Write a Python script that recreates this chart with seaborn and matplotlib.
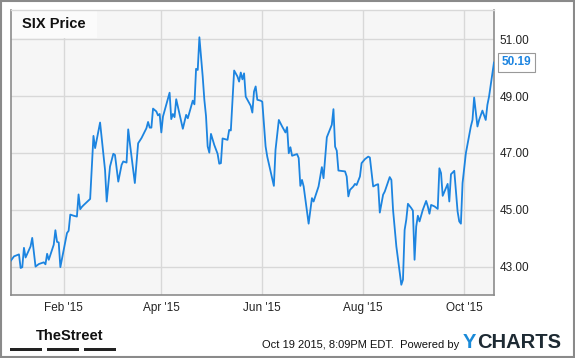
import pandas as pd
import seaborn as sns
import matplotlib.pyplot as plt
import matplotlib.dates as mdates
from matplotlib.patches import Rectangle

# SIX daily close (day = days after 2014-12-31)
day = [0, 2, 5, 6, 7, 8, 9, 12, 13, 15, 17, 20, 21, 22, 23, 26, 27, 28, 29, 30,
       32, 34, 35, 36, 38, 40, 41, 42, 43, 44, 48, 50, 51, 54, 57, 58, 60, 62, 63, 65,
       67, 68, 70, 71, 72, 75, 77, 79, 82, 83, 84, 85, 86, 88, 89, 90, 91, 92, 96, 97,
       98, 99, 100, 104, 106, 107, 110, 111, 112, 113, 114, 116, 117, 118, 119, 120, 121, 123, 125, 126,
       127, 128, 131, 132, 133, 135, 137, 138, 139, 140, 141, 142, 145, 146, 147, 148, 149, 151, 152, 154,
       155, 159, 160, 162, 164, 166, 167, 168, 169, 170, 173, 174, 175, 176, 177, 180, 182, 183, 186, 188,
       189, 191, 194, 195, 196, 197, 198, 202, 203, 204, 205, 207, 208, 209, 211, 212, 214, 216, 217, 219,
       221, 222, 223, 225, 226, 229, 230, 231, 233, 236, 237, 238, 239, 240, 242, 243, 244, 245, 246, 247,
       249, 251, 252, 253, 254, 256, 258, 259, 260, 261, 264, 265, 266, 268, 270, 271, 272, 273, 275, 278,
       279, 280, 282, 283, 285, 287, 288, 289, 292]
price = [43.20, 43.36, 43.43, 42.95, 42.98, 43.66, 43.32, 43.71, 44.01, 43.00, 43.09, 43.15, 43.08, 43.45, 43.24, 43.77, 44.28, 43.87, 43.85, 42.98,
         43.59, 44.18, 44.26, 44.83, 44.79, 44.76, 45.54, 45.02, 45.10, 45.16, 45.38, 47.60, 47.17, 48.07, 46.40, 45.29, 46.52, 46.97, 46.93, 45.99,
         46.58, 46.70, 46.66, 47.83, 47.34, 45.94, 47.34, 47.52, 47.87, 48.09, 47.89, 47.89, 48.56, 48.46, 48.32, 48.37, 47.72, 48.28, 49.12, 48.19,
         48.37, 48.26, 48.89, 47.85, 48.34, 48.22, 48.84, 48.71, 49.96, 49.92, 51.07, 49.69, 48.87, 48.30, 47.23, 47.01, 47.67, 47.28, 46.97, 46.62,
         46.64, 47.51, 47.46, 47.81, 47.79, 49.90, 49.69, 49.51, 49.83, 49.59, 49.80, 48.98, 48.66, 48.42, 49.16, 49.34, 48.87, 48.84, 48.80, 47.23,
         46.87, 45.84, 47.11, 48.16, 47.93, 47.72, 47.91, 46.99, 47.20, 46.90, 46.96, 46.82, 45.84, 46.05, 45.82, 44.51, 45.41, 45.29, 45.82, 46.50,
         46.11, 47.55, 47.99, 48.54, 47.22, 47.08, 46.38, 46.35, 46.17, 45.47, 45.70, 45.82, 45.91, 45.87, 46.17, 46.64, 46.78, 46.87, 46.84, 45.82,
         45.88, 45.90, 44.90, 45.53, 45.64, 46.15, 46.05, 45.00, 43.71, 42.36, 42.54, 44.29, 44.65, 45.21, 45.06, 44.97, 43.24, 44.41, 44.79, 44.59,
         45.00, 45.31, 45.12, 44.86, 45.17, 45.12, 45.03, 46.46, 46.29, 45.49, 45.91, 45.29, 46.25, 46.37, 44.94, 44.59, 44.51, 45.94, 46.99, 47.93,
         48.16, 48.95, 47.93, 48.16, 48.49, 48.16, 48.69, 48.98, 50.19]

yticks = [43, 45, 47, 49, 51]
xticks = ["2015-02-01", "2015-04-01", "2015-06-01", "2015-08-01", "2015-10-01"]

df = pd.DataFrame({"date": pd.Timestamp("2014-12-31") + pd.to_timedelta(day, unit="D"),
                   "price": price})

sns.set_style("whitegrid")
plt.rcParams["font.family"] = ["Liberation Sans", "DejaVu Sans"]

W, H = 575, 358
fig = plt.figure(figsize=(W / 100, H / 100), dpi=100)
ax = fig.add_axes([10.7 / W, 1 - 295 / H, (494 - 10.7) / W, (295 - 10) / H])
ax.set_facecolor("#f6f6f6")

sns.lineplot(data=df, x="date", y="price", ax=ax, color="#1c84e0", linewidth=1.3, zorder=3)

ax.set_xlim(df["date"].iloc[0], df["date"].iloc[-1])
ax.set_ylim(42, 52.03)
ax.set_yticks(yticks)
ax.yaxis.tick_right()
ax.yaxis.set_major_formatter(plt.FormatStrFormatter("%.2f"))
ax.set_xticks(pd.to_datetime(xticks))
ax.xaxis.set_major_formatter(mdates.DateFormatter("%b '%y"))
ax.tick_params(axis="both", length=0, labelsize=8.5, colors="#222222")
ax.tick_params(axis="y", pad=4)
ax.tick_params(axis="x", pad=5)
ax.set_xlabel("")
ax.set_ylabel("")
ax.grid(True, color="#d8d8d8", linewidth=1)

for side in ["left", "bottom", "right"]:
    ax.spines[side].set_color("#8c8c8c")
    ax.spines[side].set_linewidth(1.2)
ax.spines["top"].set_color("#d8d8d8")
ax.spines["top"].set_linewidth(1)

# title box
ax.add_patch(Rectangle((10.7 / W, 1 - 38 / H), 86 / W, 28 / H, transform=fig.transFigure,
                       facecolor="#fbfbfb", edgecolor="none", zorder=2.5))
fig.text(22 / W, 1 - 24.5 / H, "SIX Price", fontsize=10.5, fontweight="bold",
         color="#111111", va="center", ha="left")

# last price tag
ax.annotate(f"{price[-1]:.2f}", xy=(df["date"].iloc[-1], price[-1]), xytext=(5.5, 0),
            textcoords="offset points", ha="left", va="center", fontsize=8.5,
            fontweight="bold", color="#1c84e0", annotation_clip=False,
            bbox=dict(boxstyle="square,pad=0.3", facecolor="white", edgecolor="#999999", lw=0.8))

# footer
fig.text(35.5 / W, 1 - 336 / H, "TheStreet", fontsize=10.5, fontweight="bold",
         family=["Liberation Sans Narrow", "Liberation Sans"], color="#111111", va="center")
for x0, x1 in [(10, 42), (47, 79), (83.5, 116)]:
    fig.patches.append(Rectangle((x0 / W, 1 - 351 / H), (x1 - x0) / W, 3.5 / H,
                                 transform=fig.transFigure, facecolor="#222222", edgecolor="none"))
fig.text(459 / W, 1 - 345 / H, "Oct 19 2015, 8:09PM EDT.  Powered by", fontsize=8,
         color="#111111", ha="right", va="center")
fig.text(463 / W, 1 - 342 / H, "Y", fontsize=14.5, fontweight="bold", color="#1a8ad8", va="center")
fig.text(477 / W, 1 - 342 / H, "CHARTS", fontsize=14.5, fontweight="bold", color="#1d2a33", va="center")

# outer border
fig.patches.append(Rectangle((1 / W, 1 / H), 573 / W, 356 / H, transform=fig.transFigure,
                             fill=False, edgecolor="#8a8a8a", linewidth=1.5))

fig.savefig("out.png", dpi=100)
